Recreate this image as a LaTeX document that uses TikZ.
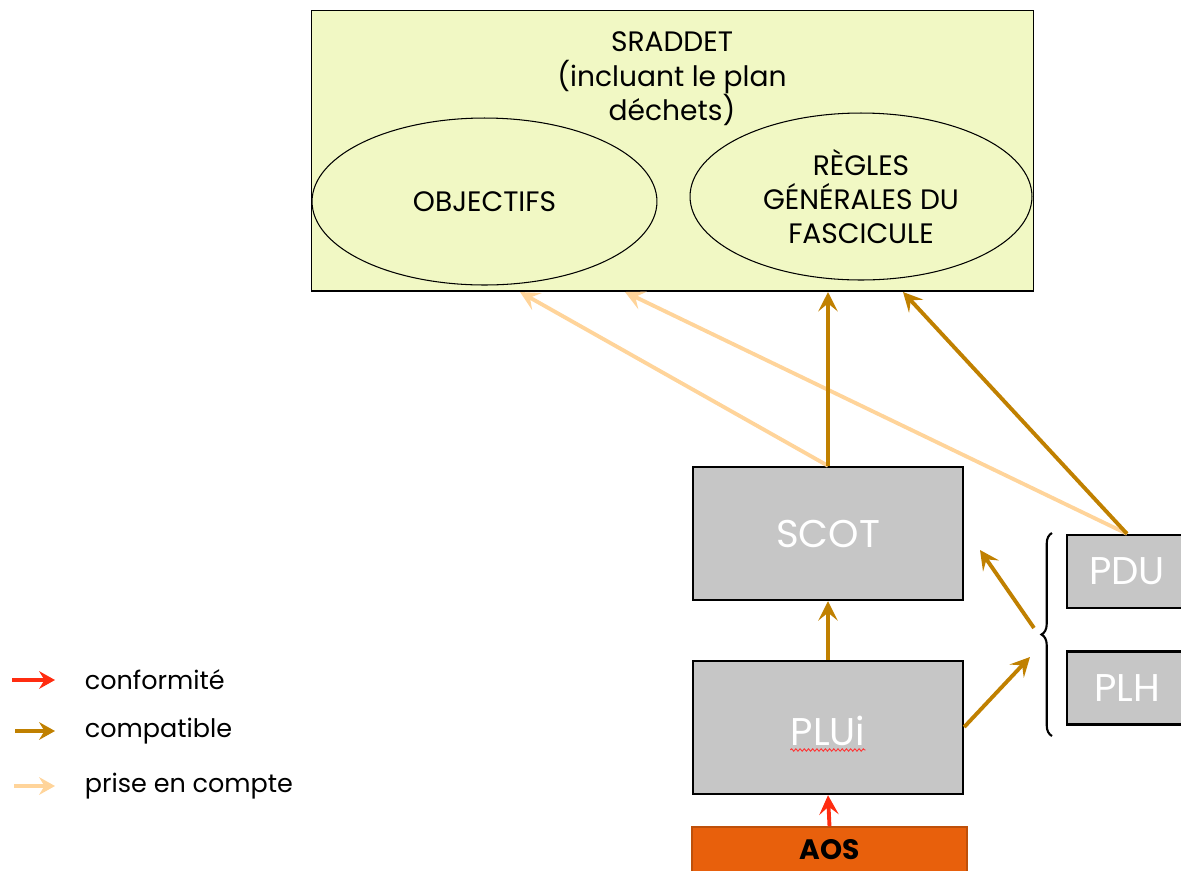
\documentclass[tikz,border=0pt]{standalone}
\usepackage{fontspec}
\setmainfont{Poppins}
\usepackage{tikz}
\usetikzlibrary{arrows.meta}
\usetikzlibrary{shapes.geometric}
\usetikzlibrary{decorations.pathreplacing,decorations.pathmorphing}
\definecolor{srfill}{RGB}{241,248,196}
\definecolor{boxgray}{RGB}{198,198,198}
\definecolor{aosorange}{RGB}{232,96,12}
\definecolor{aosedge}{RGB}{190,80,10}
\definecolor{conforme}{RGB}{255,44,16}
\definecolor{compat}{RGB}{192,128,0}
\definecolor{prise}{RGB}{255,212,154}
\tikzset{>={Stealth[length=11pt,width=11pt,inset=4.5pt]}}
\tikzset{
  plan/.style={draw=black, line width=1.4pt, fill=boxgray, text=white, inner sep=0pt},
  conf/.style={->, draw=conforme, line width=2.2pt},
  comp/.style={->, draw=compat, line width=2.2pt},
  prend/.style={->, draw=prise, line width=2.2pt},
  legarrow/.style={line width=2.4pt, -{Stealth[length=9pt,width=10pt,inset=3pt]}},
  legtext/.style={anchor=west, xshift=12.5pt, text=black, font=\fontsize{14.5}{17}\selectfont},
}
\begin{document}
\begin{tikzpicture}[x=0.02cm,y=-0.02cm]
		\clip (0,0) rectangle (1181,870);
		\useasboundingbox (0,0) rectangle (1181,870);
		% SRADDET
		\node[draw=black, line width=0.6pt, fill=srfill, minimum width=14.46cm, minimum height=5.62cm, inner sep=0pt] (sraddet) at (672.5,150.5) {};
		\node[align=center, font=\fontsize{16}{19.6}\selectfont] (titre) at (672,79) {SRADDET\\(incluant le plan\\déchets)};
		\node[ellipse, draw=black, line width=0.6pt, minimum width=6.9cm, minimum height=3.34cm, inner sep=0pt, font=\fontsize{16}{19.6}\selectfont] (objectifs) at (484.5,201.5) {OBJECTIFS};
		\node[ellipse, draw=black, line width=0.6pt, minimum width=6.84cm, minimum height=3.34cm, inner sep=0pt, align=center, font=\fontsize{16}{19.6}\selectfont] (regles) at (861,196.5) {RÈGLES\\GÉNÉRALES DU\\FASCICULE};
		% documents
		\node[plan, minimum width=5.4cm, minimum height=2.66cm, font=\fontsize{22}{26}\selectfont] (scot) at (828,533.5) {SCOT};
		\node[plan, minimum width=5.4cm, minimum height=2.66cm] (plui) at (828,727.5) {};
		\node[text=white, inner sep=0pt, font=\fontsize{22}{26}\selectfont] (pluitxt) at (828,731) {PLUi};
		\draw[red!80!white, line width=0.5pt, decorate, decoration={snake, amplitude=0.7pt, segment length=2.4pt}] ([yshift=-2.5pt]pluitxt.base west) -- ([yshift=-2.5pt]pluitxt.base east);
		\node[plan, minimum width=2.4cm, minimum height=1.46cm, font=\fontsize{22}{26}\selectfont] (pdu) at (1127,571.5) {PDU};
		\node[plan, minimum width=2.4cm, minimum height=1.46cm, font=\fontsize{22}{26}\selectfont] (plh) at (1127,688) {PLH};
		\node[draw=aosedge, line width=0.8pt, fill=aosorange, minimum width=5.5cm, minimum height=0.9cm, inner sep=0pt, font=\fontsize{16}{19}\bfseries\selectfont, text=black] (aos) at (829.5,849.5) {AOS};
		% accolade PDU / PLH
		\draw[line width=1.2pt, decorate, decoration={brace, amplitude=6pt}] (1052,736) -- (1052,533);
		\coordinate (bracetip) at (1034,628);
		\coordinate (bracein) at (1030,657);
		% liens
		\draw[prend] (scot.north) -- (520,292);
		\draw[prend] (pdu.north) -- (625,292);
		\draw[comp] (scot.north) -- (828,292);
		\draw[comp] (pdu.north) -- (903,292);
		\draw[comp] (plui.north) -- (scot.south);
		\draw[comp] (bracetip) -- (980,550);
		\draw[comp] (plui.east |- 0,727) -- (bracein);
		\draw[conf] (aos.north) -- (plui.south);
		% legende
		\coordinate (lconf) at (12,680);
		\coordinate (lcomp) at (15,731);
		\coordinate (lprise) at (14,786);
		\draw[legarrow, draw=conforme] (lconf) -- +(43,0) node[legtext] {conformité};
		\draw[legarrow, draw=compat] (lcomp) -- +(40,0) node[legtext] {compatible};
		\draw[legarrow, draw=prise] (lprise) -- +(41,0) node[legtext] {prise en compte};
	\end{tikzpicture}
\end{document}
